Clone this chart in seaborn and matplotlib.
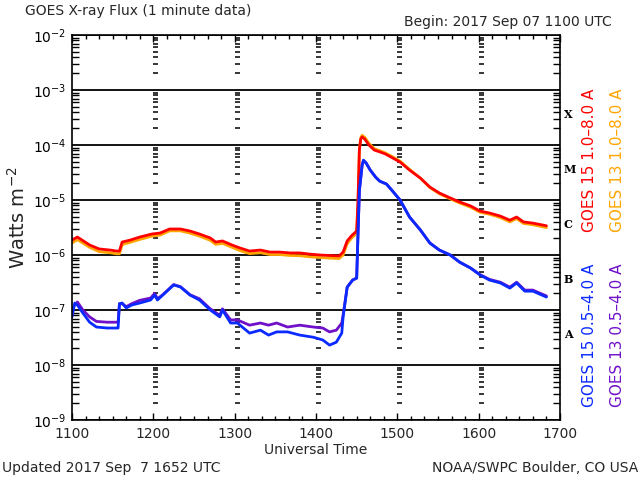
import numpy as np
import pandas as pd
import matplotlib
matplotlib.use("Agg")
import matplotlib.pyplot as plt
import matplotlib.transforms as mtransforms
from matplotlib.path import Path
from matplotlib.ticker import FixedLocator, FuncFormatter, NullFormatter
import seaborn as sns

# ---------------- data (minutes since 1100 UTC, flux in W m^-2) ----------------
t_long = [0, 4, 13, 20, 28, 33, 35, 37, 43, 50, 59, 65, 72, 80, 87, 94, 102, 106, 111, 118,
          124, 131, 139, 146, 153, 161, 168, 175, 183, 197, 200, 203, 206, 210, 211, 212, 213,
          214, 216, 219, 223, 227, 231, 235, 242, 249, 257, 264, 271, 279, 286, 294, 301, 308,
          316, 323, 328, 333, 340, 350]
goes15_long = [1.87e-6, 2.12e-6, 1.52e-6, 1.29e-6, 1.23e-6, 1.18e-6, 1.18e-6, 1.72e-6, 1.87e-6, 2.12e-6,
               2.41e-6, 2.51e-6, 2.97e-6, 2.97e-6, 2.73e-6, 2.41e-6, 2.04e-6, 1.72e-6, 1.80e-6, 1.52e-6,
               1.34e-6, 1.18e-6, 1.23e-6, 1.13e-6, 1.13e-6, 1.09e-6, 1.09e-6, 1.04e-6, 1.0e-6, 0.96e-6,
               1.13e-6, 1.80e-6, 2.21e-6, 2.73e-6, 1.0e-5, 8.1e-5, 1.28e-4, 1.40e-4, 1.28e-4, 1.0e-4,
               8.1e-5, 7.5e-5, 6.9e-5, 6.1e-5, 4.9e-5, 3.5e-5, 2.5e-5, 1.72e-5, 1.34e-5, 1.09e-5,
               9.2e-6, 7.8e-6, 6.3e-6, 5.8e-6, 5.1e-6, 4.3e-6, 4.9e-6, 4.0e-6, 3.8e-6, 3.4e-6]
goes13_long = [1.65e-6, 1.9e-6, 1.38e-6, 1.15e-6, 1.1e-6, 1.05e-6, 1.05e-6, 1.55e-6, 1.7e-6, 1.92e-6,
               2.2e-6, 2.3e-6, 2.75e-6, 2.75e-6, 2.5e-6, 2.2e-6, 1.85e-6, 1.56e-6, 1.63e-6, 1.38e-6,
               1.2e-6, 1.06e-6, 1.1e-6, 1.02e-6, 1.02e-6, 0.98e-6, 0.97e-6, 0.93e-6, 0.9e-6, 0.86e-6,
               1.0e-6, 1.6e-6, 2.0e-6, 2.5e-6, 9e-6, 8.5e-5, 1.35e-4, 1.5e-4, 1.38e-4, 1.07e-4,
               8.6e-5, 7.9e-5, 7.2e-5, 6.4e-5, 5.1e-5, 3.6e-5, 2.5e-5, 1.68e-5, 1.3e-5, 1.05e-5,
               8.8e-6, 7.4e-6, 6.0e-6, 5.5e-6, 4.8e-6, 4.0e-6, 4.6e-6, 3.75e-6, 3.55e-6, 3.15e-6]

t_short = [0, 2, 4, 8, 13, 18, 26, 33, 34, 35, 37, 40, 44, 50, 58, 61, 63, 67, 75, 80,
           87, 94, 102, 109, 111, 117, 122, 131, 139, 145, 151, 159, 168, 178, 185, 190, 195, 199,
           200, 203, 207, 210, 211, 212, 214, 215, 217, 220, 224, 227, 232, 236, 242, 249, 257,
           264, 271, 279, 286, 294, 301, 308, 316, 323, 328, 334, 340, 350]
goes15_short = [7.5e-8, 1.34e-7, 1.23e-7, 8.8e-8, 6.0e-8, 4.9e-8, 4.7e-8, 4.7e-8, 4.7e-8, 1.3e-7,
                1.34e-7, 1.09e-7, 1.23e-7, 1.34e-7, 1.52e-7, 1.87e-7, 1.52e-7, 1.87e-7, 2.85e-7, 2.62e-7,
                1.87e-7, 1.52e-7, 1.0e-7, 7.5e-8, 1.0e-7, 5.8e-8, 5.8e-8, 3.8e-8, 4.3e-8, 3.5e-8,
                4.0e-8, 4.0e-8, 3.5e-8, 3.2e-8, 2.85e-8, 2.3e-8, 2.6e-8, 3.8e-8, 7.5e-8, 2.6e-7,
                3.5e-7, 3.8e-7, 2.5e-6, 1.5e-5, 4.3e-5, 5.3e-5, 4.7e-5, 3.5e-5, 2.6e-5, 2.2e-5,
                1.95e-5, 1.5e-5, 1.0e-5, 4.9e-6, 2.85e-6, 1.65e-6, 1.23e-6, 1.0e-6, 7.4e-7, 5.8e-7,
                4.33e-7, 3.5e-7, 3.1e-7, 2.5e-7, 3.1e-7, 2.2e-7, 2.2e-7, 1.72e-7]
goes13_short = [1.0e-7, 1.23e-7, 1.4e-7, 1.0e-7, 7.5e-8, 6.2e-8, 6.0e-8, 6.0e-8, 6.0e-8, 1.3e-7,
                1.3e-7, 1.15e-7, 1.3e-7, 1.5e-7, 1.65e-7, 2.0e-7, 1.6e-7, 1.9e-7, 2.9e-7, 2.65e-7,
                1.9e-7, 1.6e-7, 1.05e-7, 8.0e-8, 1.05e-7, 6.6e-8, 6.6e-8, 5.3e-8, 5.8e-8, 5.3e-8,
                5.8e-8, 4.9e-8, 5.3e-8, 4.9e-8, 4.7e-8, 4.0e-8, 4.3e-8, 5.8e-8, 8.1e-8, 2.6e-7,
                3.5e-7, 3.8e-7, 2.4e-6, 1.45e-5, 4.2e-5, 5.2e-5, 4.7e-5, 3.5e-5, 2.6e-5, 2.2e-5,
                1.95e-5, 1.5e-5, 1.0e-5, 4.9e-6, 2.85e-6, 1.65e-6, 1.23e-6, 1.0e-6, 7.4e-7, 5.8e-7,
                4.4e-7, 3.6e-7, 3.2e-7, 2.6e-7, 3.2e-7, 2.3e-7, 2.3e-7, 1.8e-7]

hour_ticks = [0, 60, 120, 180, 240, 300, 360]
hour_labels = ["1100", "1200", "1300", "1400", "1500", "1600", "1700"]
class_letters = ["X", "M", "C", "B", "A"]
class_levels = [10 ** -3.45, 10 ** -4.45, 10 ** -5.45, 10 ** -6.45, 10 ** -7.45]

legend_labels = ["GOES 15 1.0\u20138.0 A", "GOES 13 1.0\u20138.0 A",
                 "GOES 15 0.5\u20134.0 A", "GOES 13 0.5\u20134.0 A"]
c_red, c_orange, c_blue, c_purple = "#FF0000", "#FFA500", "#0A2AFF", "#7010C8"

# ---------------- figure ----------------
sns.set_theme(style="white")
plt.rcParams["font.family"] = ["DejaVu Sans"]
plt.rcParams["axes.unicode_minus"] = True

fig = plt.figure(figsize=(6.4, 4.8), dpi=100)
fig.patch.set_facecolor("white")
ax = fig.add_axes([72 / 640, 60 / 480, 488 / 640, 385 / 480])
ax.set_facecolor("white")
ax.set_yscale("log")
ax.set_xlim(0, 360)
ax.set_ylim(1e-9, 1e-2)

df_long = pd.DataFrame({"t": t_long, "g15": goes15_long, "g13": goes13_long})
df_short = pd.DataFrame({"t": t_short, "g15": goes15_short, "g13": goes13_short})

lw = 2.0
sns.lineplot(data=df_long, x="t", y="g13", ax=ax, color=c_orange, lw=lw, estimator=None, sort=False)
sns.lineplot(data=df_long, x="t", y="g15", ax=ax, color=c_red, lw=lw, estimator=None, sort=False)
sns.lineplot(data=df_short, x="t", y="g13", ax=ax, color=c_purple, lw=lw, estimator=None, sort=False)
sns.lineplot(data=df_short, x="t", y="g15", ax=ax, color=c_blue, lw=lw, estimator=None, sort=False)
ax.set_xlabel("")
ax.set_ylabel("")

# y axis: decades with grid, log minor ticks inside on both sides
decades = [10.0 ** k for k in range(-9, -1)]
minors = [m * 10.0 ** k for k in range(-9, -2) for m in range(2, 10)]
ax.yaxis.set_major_locator(FixedLocator(decades))
ax.yaxis.set_minor_locator(FixedLocator(minors))
ax.yaxis.set_major_formatter(FuncFormatter(lambda v, p: r"$10^{%d}$" % round(np.log10(v))))
ax.yaxis.set_minor_formatter(NullFormatter())
ax.tick_params(axis="y", which="major", length=0, labelsize=10, pad=4, colors="black")
ax.tick_params(axis="y", which="minor", direction="in", length=5, width=1,
               left=True, right=True, color="black")
ax.yaxis.grid(True, which="major", color="black", lw=1.3)
ax.xaxis.grid(False)

# x axis
ax.xaxis.set_major_locator(FixedLocator(hour_ticks))
ax.xaxis.set_minor_locator(FixedLocator([m for m in range(0, 361, 10) if m % 60]))
ax.set_xticklabels(hour_labels)
ax.tick_params(axis="x", which="major", direction="in", length=5, width=1,
               top=True, bottom=True, labelsize=10, pad=5, color="black")
ax.tick_params(axis="x", which="minor", direction="in", length=3, width=1,
               top=True, bottom=True, color="black")

# minor y ticks repeated at each interior hour
tick_marker = Path([(0, 0), (1, 0)])
for h in hour_ticks[1:-1]:
    ax.plot([h] * len(minors), minors, ls="none", marker=tick_marker, ms=7,
            mec="black", mew=1.1, clip_on=False, zorder=1)

for s in ax.spines.values():
    s.set_color("black")
    s.set_linewidth(1.2)

# class letters
trans = mtransforms.blended_transform_factory(ax.transAxes, ax.transData)
for letter, lev in zip(class_letters, class_levels):
    ax.text(1.008, lev, letter, transform=trans, ha="left", va="center",
            fontsize=8, fontweight="bold", family="DejaVu Serif", color="black")

# side legend (rotated)
for lab, col, x, y in [(legend_labels[0], c_red, 590, 160), (legend_labels[1], c_orange, 617, 160),
                       (legend_labels[2], c_blue, 590, 335), (legend_labels[3], c_purple, 617, 335)]:
    fig.text(x / 640, 1 - y / 480, lab, color=col, rotation=90, ha="center", va="center", fontsize=11)

# texts
fig.text(25 / 640, 1 - 11 / 480, "GOES X-ray Flux (1 minute data)", ha="left", va="center", fontsize=10)
fig.text(612 / 640, 1 - 22 / 480, "Begin: 2017 Sep 07 1100 UTC", ha="right", va="center", fontsize=10)
fig.text(316 / 640, 1 - 450 / 480, "Universal Time", ha="center", va="center", fontsize=10)
fig.text(2 / 640, 1 - 468 / 480, "Updated 2017 Sep  7 1652 UTC", ha="left", va="center", fontsize=10)
fig.text(638 / 640, 1 - 468 / 480, "NOAA/SWPC Boulder, CO USA", ha="right", va="center", fontsize=10)
fig.text(18 / 640, 1 - 218 / 480, r"Watts m$^{-2}$", rotation=90, ha="center", va="center", fontsize=14)

fig.savefig("out.png", dpi=100, facecolor="white")
